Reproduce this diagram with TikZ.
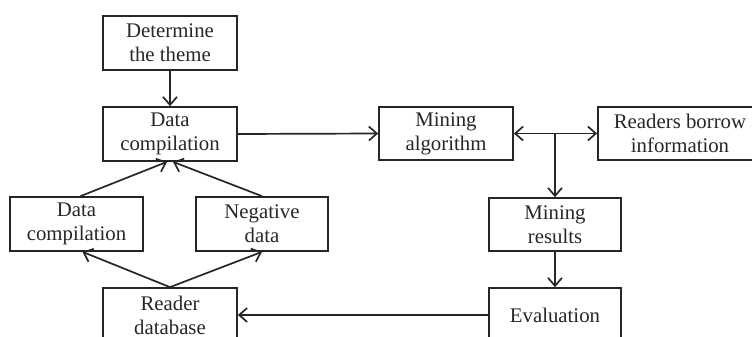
\documentclass[tikz,border=0pt]{standalone}
\usepackage{fontspec}
\setmainfont{Liberation Serif}
\usetikzlibrary{arrows.meta}
\begin{document}
\begin{tikzpicture}[x=1pt,y=-1pt,
  box/.style={draw=black!85, line width=1.7pt, minimum height=54pt, inner sep=0pt, align=center,
    font=\fontsize{20.8}{24}\selectfont, text=black!85},
  conn/.style={draw=black!85, line width=1.7pt, -{Straight Barb[length=8pt,width=14pt,line width=1.7pt]}}
]
\clip (0,0) rectangle (752,337);
\useasboundingbox (0,0) rectangle (752,337);
\node[box, minimum width=134pt] (theme) at (170,43) {Determine\\the theme};
\node[box, minimum width=134pt] (dc) at (170,134) {Data\\compilation};
\node[box, minimum width=133pt] (dcl) at (76.5,224) {Data\\compilation};
\node[box, minimum width=132pt] (neg) at (262,224) {Negative\\data};
\node[box, minimum width=134pt] (reader) at (170,315) {Reader\\database};
\node[box, minimum width=134pt, minimum height=53pt] (mining) at (446,133.5) {Mining\\algorithm};
\node[box, minimum width=164pt, minimum height=53pt] (borrow) at (680,133.5) {Readers borrow\\information};
\node[box, minimum width=132pt, minimum height=53pt] (results) at (555,224.5) {Mining\\results};
\node[box, minimum width=132pt] (eval) at (555,315) {Evaluation};
\coordinate (j) at (555,133.5);
\draw[conn] (theme.south) -- (dc.north);
\draw[conn] (dc.east) -- (mining.west);
\draw[conn] ([xshift=4pt]dcl.north) -- ([xshift=-3pt]dc.south);
\draw[conn] (neg.north) -- ([xshift=3pt]dc.south);
\draw[conn] (reader.north) -- ([xshift=6pt]dcl.south);
\draw[conn] (reader.north) -- (neg.south);
\draw[conn] (j) -- (mining.east);
\draw[conn] (j) -- (borrow.west);
\draw[conn] (j) -- (results.north);
\draw[conn] (results.south) -- (eval.north);
\draw[conn] (eval.west) -- (reader.east);
\end{tikzpicture}
\end{document}
